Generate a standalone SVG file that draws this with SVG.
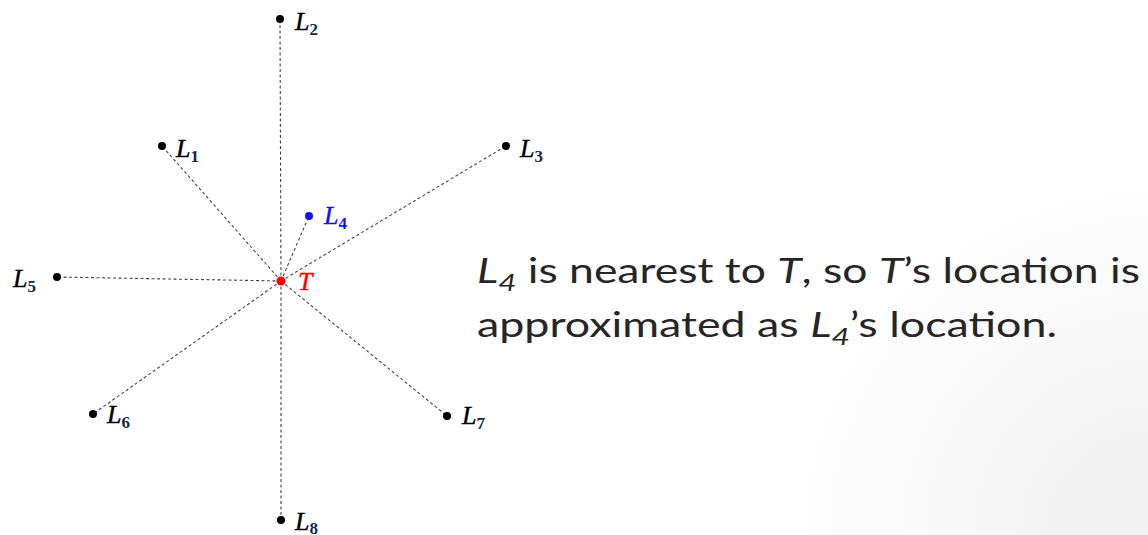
<svg xmlns="http://www.w3.org/2000/svg" width="1148" height="535" viewBox="0 0 1148 535">
<defs>
<radialGradient id="bg" cx="1148" cy="535" r="380" gradientUnits="userSpaceOnUse">
<stop offset="0" stop-color="#f1f1f1"/>
<stop offset="1" stop-color="#ffffff"/>
</radialGradient>
<style>
.ln{stroke:#444;stroke-width:1.1;stroke-dasharray:3 2.5;fill:none}
.dot{fill:#000}
.lab{font-family:"Liberation Serif",serif;font-style:italic;font-size:26px;fill:#000;stroke:#000;stroke-width:0.4}
.sub{font-family:"Liberation Serif",serif;font-style:normal;font-weight:bold;font-size:17px;fill:#0b2a4a;stroke:none}
.txt{font-family:Lato,"Open Sans",sans-serif;font-size:34px;fill:#262626}
</style>
</defs>
<rect width="1148" height="535" fill="url(#bg)"/>
<g id="connectors">
<line class="ln" x1="281" y1="281" x2="280" y2="19"/>
<line class="ln" x1="281" y1="281" x2="162" y2="146"/>
<line class="ln" x1="281" y1="281" x2="506" y2="146"/>
<line class="ln" x1="281" y1="281" x2="309" y2="216"/>
<line class="ln" x1="281" y1="281" x2="57" y2="277"/>
<line class="ln" x1="281" y1="281" x2="93" y2="414"/>
<line class="ln" x1="281" y1="281" x2="447" y2="416"/>
<line class="ln" x1="281" y1="281" x2="281" y2="520"/>
</g>
<g id="L2"><circle class="dot" cx="280" cy="19" r="4"/><text class="lab" x="295" y="30">L<tspan class="sub" dy="5">2</tspan></text></g>
<g id="L1"><circle class="dot" cx="162" cy="146" r="4"/><text class="lab" x="176" y="157">L<tspan class="sub" dy="5">1</tspan></text></g>
<g id="L3"><circle class="dot" cx="506" cy="146" r="4"/><text class="lab" x="520" y="157">L<tspan class="sub" dy="5">3</tspan></text></g>
<g id="L4"><circle cx="309" cy="216" r="4" fill="#1010ff"/><text class="lab" x="324" y="224" style="fill:#1010ff;stroke:#1010ff">L<tspan class="sub" dy="5" style="fill:#1010ff">4</tspan></text></g>
<g id="L5"><circle class="dot" cx="57" cy="277" r="4"/><text class="lab" x="13" y="287">L<tspan class="sub" dy="5">5</tspan></text></g>
<g id="L6"><circle class="dot" cx="93" cy="414" r="4"/><text class="lab" x="107" y="423">L<tspan class="sub" dy="5">6</tspan></text></g>
<g id="L7"><circle class="dot" cx="447" cy="416" r="4"/><text class="lab" x="462" y="424">L<tspan class="sub" dy="5">7</tspan></text></g>
<g id="L8"><circle class="dot" cx="281" cy="520" r="4"/><text class="lab" x="295" y="530">L<tspan class="sub" dy="4">8</tspan></text></g>
<g id="T"><circle cx="281" cy="281" r="4.5" fill="#ff0000"/><text class="lab" x="298" y="290" style="fill:#ff0000;stroke:#ff0000">T</text></g>
<g id="caption">
<text class="txt" x="477" y="283" textLength="663" lengthAdjust="spacingAndGlyphs"><tspan font-style="italic">L</tspan><tspan font-style="italic" font-size="24" dy="8">4</tspan><tspan dy="-8"> is nearest to </tspan><tspan font-style="italic">T</tspan><tspan>, so </tspan><tspan font-style="italic">T</tspan><tspan>’s location is</tspan></text>
<text class="txt" x="477" y="337" textLength="580" lengthAdjust="spacingAndGlyphs">approximated as <tspan font-style="italic">L</tspan><tspan font-style="italic" font-size="24" dy="8">4</tspan><tspan dy="-8">’s location.</tspan></text>
</g>
</svg>
